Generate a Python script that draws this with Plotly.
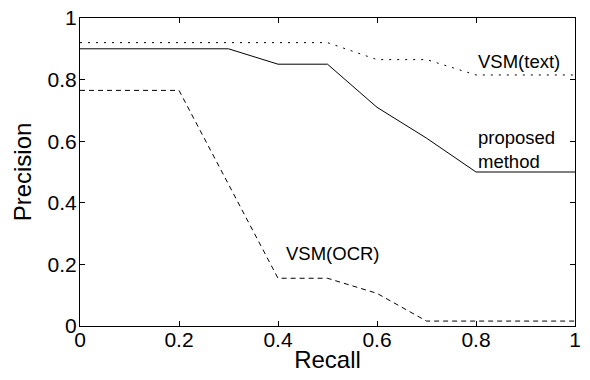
import plotly.graph_objects as go

recall = [0, 0.1, 0.2, 0.3, 0.4, 0.5, 0.6, 0.7, 0.8, 0.9, 1.0]
proposed = [0.9, 0.9, 0.9, 0.9, 0.85, 0.85, 0.71, 0.61, 0.5, 0.5, 0.5]
vsm_text = [0.92, 0.92, 0.92, 0.92, 0.92, 0.92, 0.865, 0.865, 0.815, 0.815, 0.815]
vsm_ocr = [0.765, 0.765, 0.765, 0.46, 0.155, 0.155, 0.106, 0.016, 0.016, 0.016, 0.016]
ticks = [0, 0.2, 0.4, 0.6, 0.8, 1]
tick_text = ["0", "0.2", "0.4", "0.6", "0.8", "1"]

FONT = "Liberation Sans, Arial, sans-serif"

fig = go.Figure()
fig.add_trace(go.Scatter(x=recall, y=vsm_text, mode="lines",
                         line=dict(color="black", width=1, dash="2px,6px")))
fig.add_trace(go.Scatter(x=recall, y=proposed, mode="lines",
                         line=dict(color="black", width=1)))
fig.add_trace(go.Scatter(x=recall, y=vsm_ocr, mode="lines",
                         line=dict(color="black", width=1, dash="5px,4px")))

ann_font = dict(family=FONT, size=18.5, color="black")
fig.add_annotation(x=0.8, y=0.86, text="VSM(text)", showarrow=False,
                   xanchor="left", yanchor="middle", font=ann_font)
fig.add_annotation(x=0.8, y=0.573, text="proposed<br>method", showarrow=False,
                   xanchor="left", yanchor="middle", align="left", font=ann_font)
fig.add_annotation(x=0.412, y=0.234, text="VSM(OCR)", showarrow=False,
                   xanchor="left", yanchor="middle", font=ann_font)

axis_common = dict(range=[0, 1], tickvals=ticks, ticktext=tick_text,
                   ticks="inside", ticklen=5, tickcolor="black", tickwidth=1,
                   showline=True, linecolor="black", linewidth=1, mirror="ticks",
                   showgrid=False, zeroline=False, automargin=False,
                   ticklabeloverflow="allow",
                   tickfont=dict(family=FONT, size=21, color="black"))

fig.update_layout(
    width=590, height=380,
    margin=dict(l=80, r=15, t=18, b=54),
    paper_bgcolor="white", plot_bgcolor="white",
    showlegend=False,
    hovermode=False,
    xaxis=dict(**axis_common, ticklabelstandoff=-5,
               title=dict(text="Recall", font=dict(family=FONT, size=24, color="black"),
                          standoff=0)),
    yaxis=dict(**axis_common, ticklabelstandoff=-2,
               title=dict(text="Precision", font=dict(family=FONT, size=24, color="black"),
                          standoff=9)),
)

# remove the page's default body margin so the figure fills the window
fig.write_html("out.html", config={"displayModeBar": False, "staticPlot": True},
               post_script="document.body.style.margin='0';document.body.style.overflow='hidden';")
